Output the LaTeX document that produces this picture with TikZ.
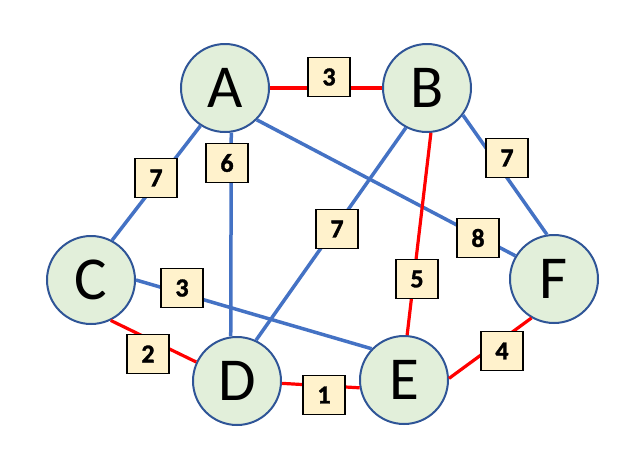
\documentclass[tikz,border=0pt]{standalone}
\usepackage{fontspec}
\setmainfont{Carlito}
\newfontfamily\digitfont[FakeBold=1.4]{Carlito Bold}
\definecolor{nodefill}{HTML}{E2EFDA}
\definecolor{nodeborder}{HTML}{2F5597}
\definecolor{edgeblue}{HTML}{4472C4}
\definecolor{edgered}{HTML}{FF0000}
\definecolor{boxfill}{HTML}{FFF2CC}
\begin{document}
\begin{tikzpicture}[x=1pt,y=-1pt,
  vertex/.style={circle,draw=nodeborder,fill=nodefill,line width=2pt,minimum size=88pt,inner sep=0pt,font=\fontsize{61}{61}\selectfont},
  wbox/.style={draw=black,fill=boxfill,line width=1.2pt,minimum width=42pt,minimum height=39pt,inner sep=0pt,font=\fontsize{26}{26}\digitfont},
  blueedge/.style={draw=edgeblue,line width=3.5pt},
  rededge/.style={draw=edgered,line width=3.2pt}]
\useasboundingbox (0,0) rectangle (641,448);
\node[vertex] (A) at (225,88) {A};
\node[vertex] (B) at (427,88) {B};
\node[vertex] (C) at (91,280) {C};
\node[vertex] (D) at (237,381) {D};
\node[vertex] (E) at (404,380) {E};
\node[vertex] (F) at (554,279) {F};
% edges
\draw[rededge] (A.0) -- (B.180);
\draw[blueedge] (A.237) -- (C.62);
\draw[blueedge] (A.-82) -- (D.98);
\draw[blueedge] (A.-45) -- (F.149);
\draw[blueedge] (B.-118) -- (D.65);
\draw[rededge] (B.-85) -- (E.86);
\draw[blueedge] (B.-37) -- (F.99);
\draw[blueedge] (C.0) -- (E.136);
\draw[rededge] (C.-64) -- (D.155);
\draw[rededge] (D.-3) -- (E.190);
\draw[rededge] (E.2) -- (F.240);
% weight boxes
\node[wbox] (wAB) at (329,77) {3};
\node[wbox] (wAC) at (156,178) {7};
\node[wbox] (wAD) at (227,163) {6};
\node[wbox] (wAF) at (478,238) {8};
\node[wbox] (wBD) at (337,229) {7};
\node[wbox] (wBE) at (417,279) {5};
\node[wbox] (wBF) at (507,158) {7};
\node[wbox] (wCE) at (182,288) {3};
\node[wbox] (wCD) at (148,354) {2};
\node[wbox] (wDE) at (324,395) {1};
\node[wbox] (wEF) at (502,351) {4};
\end{tikzpicture}
\end{document}
